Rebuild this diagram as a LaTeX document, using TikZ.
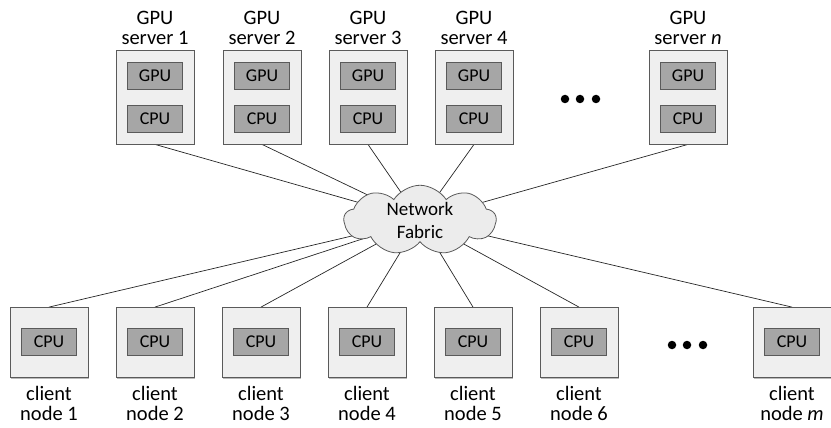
\documentclass[tikz,border=0pt]{standalone}
\usepackage{fontspec}
\setmainfont{Carlito}
\usetikzlibrary{shapes.symbols,shadows,backgrounds}
\definecolor{boxfill}{RGB}{239,239,239}
\definecolor{chipfill}{RGB}{166,166,166}
\definecolor{cloudfill}{RGB}{236,236,236}
\definecolor{edge}{RGB}{90,90,90}
\tikzset{
  host/.style={draw=edge, fill=boxfill, line width=0.8pt, minimum width=78pt,
    drop shadow={shadow xshift=1.2pt, shadow yshift=-1.2pt, opacity=0.45, fill=black!60}},
  chip/.style={draw=edge, fill=chipfill, line width=0.8pt, minimum width=55pt,
    minimum height=27pt, inner sep=0pt, font=\fontsize{18}{19}\selectfont},
  caption/.style={align=center, font=\fontsize{20.5}{20}\selectfont, inner sep=0pt},
  link/.style={draw=black!85, line width=0.7pt},
  dot/.style={circle, fill=black, inner sep=0pt, minimum size=8.5pt}
}
\begin{document}
\begin{tikzpicture}[x=1pt,y=-1pt]
\useasboundingbox (0,0) rectangle (831,428);

% network fabric cloud
\node[cloud, cloud puffs=9, cloud puff arc=115, aspect=2.2, draw=edge, fill=cloudfill,
  line width=0.8pt, minimum width=152pt, minimum height=68pt, align=center,
  font=\fontsize{19}{23}\selectfont, inner sep=0pt] (net) at (420,220) {Network\\Fabric};

% GPU servers
\foreach \x/\lab/\id in {155/1/s1, 262/2/s2, 368/3/s3, 474/4/s4, 688/\textit{n}/sn}{
  \node[host, minimum height=94pt] (\id) at (\x,97) {};
  \node[chip] (\id gpu) at (\x,75.5) {GPU};
  \node[chip] (\id cpu) at (\x,118.5) {CPU};
  \node[caption, anchor=south] (\id lab) at (\x,45) {GPU\\server \lab};
}

% client nodes
\foreach \x/\lab/\id in {49/1/c1, 155/2/c2, 261/3/c3, 367/4/c4, 473/5/c5, 579/6/c6, 792/\textit{m}/cm}{
  \node[host, minimum height=70pt] (\id) at (\x,342.5) {};
  \node[chip] (\id cpu) at (\x,342) {CPU};
  \node[caption, anchor=north] (\id lab) at (\x,386) {client\\node \lab};
}

% ellipsis marks
\foreach \x/\id in {565/ta, 580/tb, 596/tc}{ \node[dot] (\id) at (\x,99) {}; }
\foreach \x/\id in {672/ba, 687/bb, 703/bc}{ \node[dot] (\id) at (\x,345) {}; }

% links into the fabric, kept behind the cloud
\begin{scope}[on background layer]
  \foreach \id in {s1,s2,s3,s4,sn}{ \draw[link] (\id.south) -- (net.center); }
  \foreach \id in {c1,c2,c3,c4,c5,c6,cm}{ \draw[link] (\id.north) -- (net.center); }
\end{scope}
\end{tikzpicture}
\end{document}
